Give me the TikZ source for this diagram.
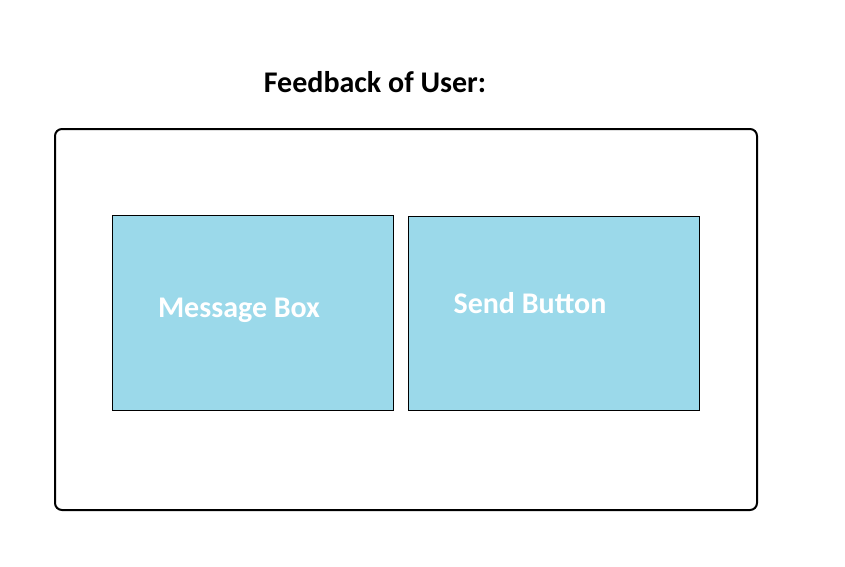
\documentclass[tikz,border=0pt]{standalone}
\usepackage{fontspec}
\setmainfont{Carlito}
\definecolor{boxblue}{HTML}{9BD9EA}
\begin{document}
\begin{tikzpicture}[x=1pt,y=-1pt,
  panel/.style={draw=black, line width=2pt, rounded corners=7pt, inner sep=0pt},
  uibox/.style={draw=black, line width=0.9pt, fill=boxblue, inner sep=0pt},
  uilabel/.style={text=white, font=\bfseries\fontsize{30}{34}\selectfont, inner sep=0pt, anchor=base},
  titlelabel/.style={text=black, font=\bfseries\fontsize{30}{34}\selectfont, inner sep=0pt, anchor=base}]
\useasboundingbox (0,0) rectangle (845,566);
\node[titlelabel] (title) at (375,92) {Feedback of User:};
\draw[panel] (55,129) rectangle (757,510);
\node[uibox, minimum width=281pt, minimum height=195pt] (msg) at (252.5,312.5) {};
\node[uibox, minimum width=291pt, minimum height=194pt] (send) at (553.5,313) {};
\node[uilabel] (msgl) at (239,317) {Message Box};
\node[uilabel] (sendl) at (530,313) {Send Button};
\end{tikzpicture}
\end{document}
